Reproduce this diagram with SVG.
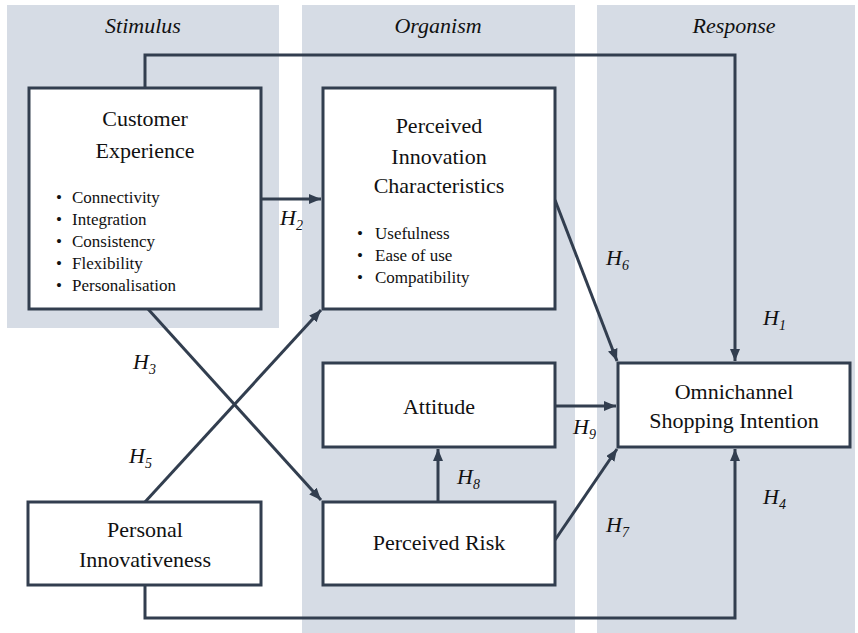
<svg xmlns="http://www.w3.org/2000/svg" width="858" height="633" viewBox="0 0 858 633">
<defs>
<marker id="ah" markerUnits="userSpaceOnUse" viewBox="0 0 12 10" refX="12" refY="5" markerWidth="12" markerHeight="10" orient="auto">
<path d="M0,0 L12,5 L0,10 z" fill="#323e4f"/>
</marker>
</defs>
<rect width="858" height="633" fill="#fff"/>
<g id="panels" fill="#d6dce5">
<rect x="7" y="5" width="272" height="323"/>
<rect x="302" y="5" width="273" height="628"/>
<rect x="597" y="5" width="258" height="628"/>
</g>
<g id="headers" font-family="Liberation Serif" font-size="22" font-style="italic" text-anchor="middle" fill="#111">
<text x="143" y="33">Stimulus</text>
<text x="438" y="33">Organism</text>
<text x="734" y="33">Response</text>
</g>
<g id="connectors" fill="none" stroke="#323e4f" stroke-width="3">
<polyline points="145,88 145,55 735,55 735,361" marker-end="url(#ah)"/>
<line x1="261" y1="199" x2="321" y2="199" marker-end="url(#ah)"/>
<line x1="148" y1="309" x2="321" y2="500" marker-end="url(#ah)"/>
<line x1="145" y1="502" x2="321" y2="310" marker-end="url(#ah)"/>
<line x1="555" y1="200" x2="617" y2="361" marker-end="url(#ah)"/>
<line x1="555" y1="406" x2="616" y2="406" marker-end="url(#ah)"/>
<line x1="555" y1="540" x2="617" y2="449" marker-end="url(#ah)"/>
<line x1="438" y1="502" x2="438" y2="449" marker-end="url(#ah)"/>
<polyline points="145,585 145,618 735,618 735,449" marker-end="url(#ah)"/>
</g>
<g id="connector-labels" font-family="Liberation Serif" font-size="22" font-style="italic" fill="#111">
<text x="280" y="225">H<tspan font-size="14" dy="5">2</tspan></text>
<text x="133" y="369">H<tspan font-size="14" dy="5">3</tspan></text>
<text x="129" y="463">H<tspan font-size="14" dy="5">5</tspan></text>
<text x="606" y="265">H<tspan font-size="14" dy="5">6</tspan></text>
<text x="763" y="325">H<tspan font-size="14" dy="5">1</tspan></text>
<text x="573" y="434">H<tspan font-size="14" dy="5">9</tspan></text>
<text x="457" y="484">H<tspan font-size="14" dy="5">8</tspan></text>
<text x="606" y="532">H<tspan font-size="14" dy="5">7</tspan></text>
<text x="763" y="504">H<tspan font-size="14" dy="5">4</tspan></text>
</g>
<g id="customer-experience" font-family="Liberation Serif" fill="#111">
<rect x="29" y="88" width="232" height="221" fill="#fff" stroke="#323e4f" stroke-width="3"/>
<text x="145" y="126" font-size="22" text-anchor="middle">Customer</text>
<text x="145" y="158" font-size="22" text-anchor="middle">Experience</text>
<g font-size="17">
<text x="56" y="203">•</text><text x="72" y="203">Connectivity</text>
<text x="56" y="225">•</text><text x="72" y="225">Integration</text>
<text x="56" y="247">•</text><text x="72" y="247">Consistency</text>
<text x="56" y="269">•</text><text x="72" y="269">Flexibility</text>
<text x="56" y="291">•</text><text x="72" y="291">Personalisation</text>
</g>
</g>
<g id="perceived-innovation" font-family="Liberation Serif" fill="#111">
<rect x="323" y="88" width="232" height="221" fill="#fff" stroke="#323e4f" stroke-width="3"/>
<text x="439" y="133" font-size="22" text-anchor="middle">Perceived</text>
<text x="439" y="164" font-size="22" text-anchor="middle">Innovation</text>
<text x="439" y="193" font-size="22" text-anchor="middle">Characteristics</text>
<g font-size="17">
<text x="357" y="239">•</text><text x="375" y="239">Usefulness</text>
<text x="357" y="261">•</text><text x="375" y="261">Ease of use</text>
<text x="357" y="283">•</text><text x="375" y="283">Compatibility</text>
</g>
</g>
<g id="attitude" font-family="Liberation Serif" fill="#111">
<rect x="323" y="363" width="232" height="84" fill="#fff" stroke="#323e4f" stroke-width="3"/>
<text x="439" y="414" font-size="22" text-anchor="middle">Attitude</text>
</g>
<g id="perceived-risk" font-family="Liberation Serif" fill="#111">
<rect x="323" y="502" width="232" height="83" fill="#fff" stroke="#323e4f" stroke-width="3"/>
<text x="439" y="550" font-size="22" text-anchor="middle">Perceived Risk</text>
</g>
<g id="personal-innovativeness" font-family="Liberation Serif" fill="#111">
<rect x="28" y="502" width="233" height="83" fill="#fff" stroke="#323e4f" stroke-width="3"/>
<text x="145" y="537" font-size="22" text-anchor="middle">Personal</text>
<text x="145" y="567" font-size="22" text-anchor="middle">Innovativeness</text>
</g>
<g id="omnichannel" font-family="Liberation Serif" fill="#111">
<rect x="618" y="363" width="232" height="84" fill="#fff" stroke="#323e4f" stroke-width="3"/>
<text x="734" y="399" font-size="22" text-anchor="middle">Omnichannel</text>
<text x="734" y="428" font-size="22" text-anchor="middle">Shopping Intention</text>
</g>
</svg>
